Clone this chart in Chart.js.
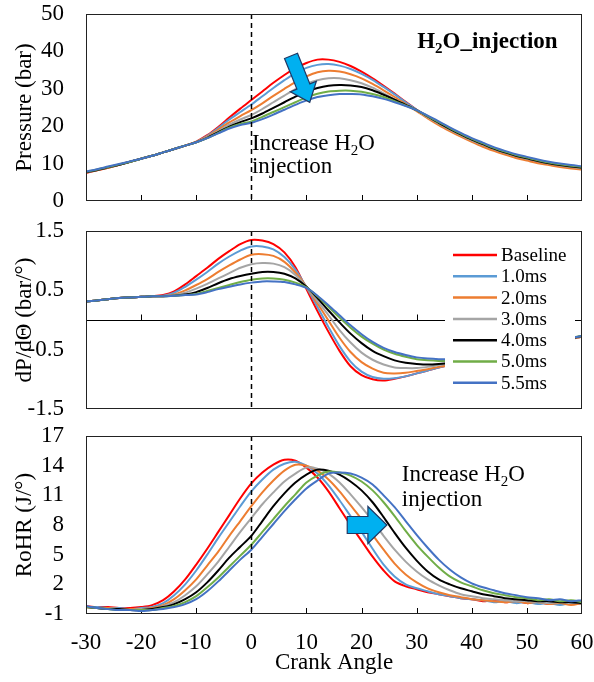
<!DOCTYPE html>
<html>
<head>
<meta charset="utf-8">
<script src="https://cdn.jsdelivr.net/npm/chart.js@4.4.1/dist/chart.umd.min.js"></script>
<style>
html, body { margin: 0; padding: 0; background: #fff; }
#wrap { position: relative; width: 594px; height: 682px; }
canvas { position: absolute; left: 0; top: 0; }
</style>
</head>
<body>
<div id="wrap">
  <canvas id="chart-p" width="594" height="682"></canvas>
  <canvas id="chart-d" width="594" height="682"></canvas>
  <canvas id="chart-r" width="594" height="682"></canvas>
</div>
<script>
const FONT = "'Liberation Serif', 'Times New Roman', serif";

const crankAngle = [-30,-28,-26,-24,-22,-20,-18,-16,-14,-12,-10,-8,-6,-4,-2,0,2,4,6,8,10,12,14,16,18,20,22,24,26,28,30,32,34,36,38,40,42,44,46,48,50,52,54,56,58,60];
const angleTicks = [-30,-20,-10,0,10,20,30,40,50,60];

const seriesNames = ["Baseline", "1.0ms", "2.0ms", "3.0ms", "4.0ms", "5.0ms", "5.5ms"];
const seriesColors = ["#ff0000", "#5b9bd5", "#ed7d31", "#a5a5a5", "#000000", "#70ad47", "#4472c4"];

// Pressure (bar)
const pBase = [7.5,8.2,8.9,9.7,10.5,11.3,12.1,13.0,13.9,14.8, 15.9,17.6,19.8,22.3,24.7,27.0,29.3,31.6,33.7,35.5, 36.9,37.8,37.8,37.2,36.1,34.6,32.8,30.8,28.7,26.5, 24.4,22.5,20.7,19.0,17.5,16.1,14.9,13.8,12.8,11.9, 11.2,10.5,9.9,9.4,9.0,8.7];
const p10 = [7.7,8.3,9.0,9.7,10.5,11.3,12.1,13.0,13.9,14.8, 15.8,17.4,19.5,21.8,23.8,25.8,28.0,30.2,32.3,34.2, 35.6,36.4,36.6,36.2,35.3,34.0,32.4,30.5,28.5,26.4, 24.4,22.5,20.7,19.1,17.6,16.2,15.0,13.9,12.9,12.0, 11.3,10.6,10.0,9.5,9.1,8.8];
const p20 = [7.6,8.2,8.9,9.7,10.5,11.3,12.1,13.0,13.9,14.8, 15.8,17.2,19.1,21.0,22.7,24.3,26.1,28.1,30.0,31.8, 33.3,34.4,34.8,34.6,33.9,32.8,31.3,29.6,27.8,25.9, 24.0,22.1,20.3,18.7,17.2,15.8,14.5,13.4,12.4,11.5, 10.8,10.1,9.6,9.1,8.7,8.4];
const p30 = [7.7,8.3,9.0,9.7,10.5,11.3,12.1,13.0,13.9,14.8, 15.7,17.0,18.7,20.4,21.8,23.0,24.6,26.4,28.2,29.9, 31.3,32.3,32.8,32.8,32.3,31.5,30.3,28.8,27.2,25.7, 24.2,22.4,20.7,19.1,17.6,16.2,15.0,13.9,12.9,12.0, 11.3,10.6,10.0,9.5,9.1,8.8];
const p40 = [7.7,8.3,9.0,9.7,10.5,11.3,12.1,13.0,13.9,14.8, 15.7,16.9,18.4,19.9,21.1,22.1,23.4,24.9,26.4,27.9, 29.2,30.2,30.8,31.0,30.9,30.5,29.6,28.4,27.1,25.7, 24.3,22.6,20.9,19.3,17.8,16.4,15.2,14.0,13.0,12.1, 11.4,10.7,10.1,9.6,9.2,8.9];
const p50 = [7.8,8.4,9.1,9.8,10.5,11.3,12.1,13.0,13.9,14.8, 15.7,16.8,18.2,19.6,20.6,21.3,22.5,23.8,25.1,26.4, 27.7,28.7,29.3,29.5,29.5,29.2,28.6,27.8,26.7,25.5, 24.3,22.7,21.1,19.5,18.0,16.6,15.4,14.2,13.2,12.3, 11.6,10.9,10.3,9.8,9.4,9.1];
const p55 = [7.9,8.5,9.2,9.9,10.6,11.3,12.1,13.0,13.9,14.8, 15.7,16.8,18.1,19.4,20.3,20.9,21.9,23.1,24.4,25.7, 26.9,27.8,28.3,28.6,28.6,28.5,28.0,27.3,26.4,25.4, 24.3,22.8,21.3,19.7,18.2,16.8,15.6,14.4,13.4,12.5, 11.8,11.1,10.5,10.0,9.6,9.3];
const pressureTicks = [0,10,20,30,40,50];

// dP/dTheta (bar/deg)
const dBase = [0.31,0.33,0.35,0.37,0.38,0.39,0.40,0.42,0.48,0.60, 0.74,0.88,1.03,1.16,1.28,1.35,1.34,1.28,1.14,0.89, 0.52,0.15,-0.20,-0.52,-0.78,-0.93,-1.00,-1.02,-0.99,-0.95, -0.90,-0.85,-0.80,-0.76,-0.72,-0.68,-0.64,-0.60,-0.56,-0.52, -0.48,-0.44,-0.40,-0.36,-0.32,-0.28];
const d10 = [0.31,0.33,0.35,0.37,0.38,0.39,0.40,0.41,0.46,0.56, 0.68,0.81,0.95,1.07,1.17,1.24,1.24,1.19,1.06,0.85, 0.55,0.22,-0.12,-0.44,-0.70,-0.87,-0.96,-0.99,-0.98,-0.95, -0.90,-0.85,-0.80,-0.76,-0.72,-0.68,-0.64,-0.60,-0.56,-0.52, -0.48,-0.44,-0.40,-0.36,-0.32,-0.28];
const d20 = [0.31,0.33,0.35,0.37,0.38,0.39,0.40,0.40,0.43,0.50, 0.59,0.69,0.81,0.92,1.02,1.10,1.11,1.08,0.98,0.80, 0.56,0.28,-0.01,-0.30,-0.54,-0.71,-0.82,-0.89,-0.90,-0.89, -0.86,-0.83,-0.79,-0.76,-0.72,-0.68,-0.64,-0.60,-0.56,-0.52, -0.48,-0.44,-0.40,-0.36,-0.32,-0.28];
const d30 = [0.31,0.33,0.35,0.37,0.38,0.39,0.40,0.40,0.42,0.46, 0.53,0.61,0.70,0.79,0.88,0.94,0.96,0.95,0.89,0.76, 0.56,0.32,0.08,-0.17,-0.38,-0.55,-0.67,-0.75,-0.80,-0.81, -0.81,-0.79,-0.76,-0.73,-0.70,-0.66,-0.63,-0.59,-0.55,-0.51, -0.47,-0.43,-0.39,-0.35,-0.31,-0.27];
const d40 = [0.31,0.33,0.35,0.37,0.38,0.39,0.40,0.40,0.41,0.43, 0.47,0.54,0.62,0.69,0.74,0.78,0.81,0.81,0.78,0.70, 0.56,0.37,0.16,-0.04,-0.23,-0.39,-0.52,-0.61,-0.68,-0.72, -0.74,-0.75,-0.74,-0.72,-0.69,-0.65,-0.62,-0.58,-0.54,-0.50, -0.46,-0.42,-0.38,-0.35,-0.31,-0.27];
const d50 = [0.31,0.33,0.35,0.37,0.38,0.39,0.40,0.40,0.41,0.42, 0.44,0.49,0.54,0.59,0.64,0.68,0.70,0.70,0.68,0.63, 0.55,0.40,0.22,0.04,-0.13,-0.28,-0.40,-0.50,-0.57,-0.62, -0.66,-0.68,-0.69,-0.69,-0.67,-0.64,-0.61,-0.57,-0.53,-0.49, -0.45,-0.41,-0.37,-0.34,-0.30,-0.27];
const d55 = [0.31,0.33,0.35,0.37,0.38,0.39,0.40,0.40,0.41,0.42, 0.43,0.47,0.52,0.56,0.60,0.63,0.65,0.65,0.64,0.60, 0.54,0.41,0.25,0.08,-0.09,-0.24,-0.37,-0.47,-0.54,-0.59, -0.63,-0.65,-0.66,-0.66,-0.64,-0.61,-0.58,-0.55,-0.51,-0.47, -0.43,-0.40,-0.36,-0.33,-0.30,-0.27];
const dpTicks = [-1.5,-0.5,0.5,1.5];

// RoHR (J/deg)
const rBase = [-0.2,-0.3,-0.3,-0.4,-0.4,-0.3,-0.1,0.4,1.3,2.5, 4.0,5.6,7.3,9.0,10.7,12.2,13.3,14.1,14.6,14.5, 13.8,12.8,11.4,9.7,8.0,6.4,4.8,3.4,2.3,1.8, 1.5,1.2,1.0,0.8,0.6,0.5,0.3,0.4,0.2,0.3, 0.1,0.2,0.0,0.2,0.0,0.1];
const r10 = [-0.3,-0.3,-0.4,-0.4,-0.5,-0.4,-0.3,0.1,0.9,2.0, 3.4,5.0,6.7,8.3,9.9,11.4,12.6,13.6,14.2,14.4, 14.0,13.2,12.0,10.5,8.9,7.3,5.6,4.0,2.8,2.0, 1.6,1.3,1.0,0.8,0.6,0.5,0.4,0.2,0.3,0.1, 0.2,0.0,0.1,-0.1,0.1,0.0];
const r20 = [-0.3,-0.4,-0.4,-0.5,-0.5,-0.5,-0.4,-0.1,0.5,1.4, 2.5,3.9,5.3,6.9,8.4,9.9,11.3,12.5,13.5,14.1, 14.0,13.5,12.6,11.4,10.0,8.6,7.0,5.5,4.1,3.0, 2.2,1.6,1.2,0.9,0.7,0.5,0.4,0.3,0.2,0.3, 0.1,0.2,0.0,0.1,-0.1,0.1];
const r30 = [-0.3,-0.4,-0.5,-0.5,-0.6,-0.5,-0.5,-0.2,0.2,0.9, 1.8,3.0,4.3,5.8,7.3,8.7,10.1,11.3,12.4,13.2, 13.8,13.7,13.2,12.3,11.1,9.8,8.4,6.9,5.5,4.3, 3.3,2.5,1.9,1.4,1.0,0.8,0.6,0.5,0.4,0.3, 0.3,0.2,0.1,0.2,0.1,0.2];
const r40 = [-0.3,-0.4,-0.5,-0.5,-0.6,-0.6,-0.5,-0.3,0.0,0.5, 1.2,2.2,3.4,4.7,5.8,6.9,8.4,9.9,11.2,12.3, 13.1,13.6,13.5,13.1,12.4,11.5,10.3,8.8,7.2,5.7, 4.4,3.3,2.5,2.0,1.6,1.3,1.0,0.8,0.6,0.5, 0.4,0.3,0.3,0.2,0.2,0.1];
const r50 = [-0.3,-0.4,-0.5,-0.6,-0.6,-0.6,-0.6,-0.4,-0.2,0.2, 0.8,1.7,2.7,3.8,4.9,6.0,7.3,8.6,9.9,11.1, 12.3,13.0,13.4,13.3,13.0,12.4,11.5,10.3,8.9,7.4, 6.0,4.8,3.7,2.8,2.2,1.8,1.4,1.1,0.9,0.7, 0.6,0.4,0.5,0.3,0.4,0.2];
const r55 = [-0.2,-0.4,-0.5,-0.6,-0.6,-0.7,-0.6,-0.5,-0.3,0.0, 0.5,1.3,2.3,3.4,4.5,5.5,6.8,8.1,9.4,10.6, 11.7,12.5,13.2,13.3,13.2,12.8,12.1,11.0,9.8,8.4, 7.0,5.7,4.5,3.5,2.7,2.1,1.7,1.4,1.1,0.9, 0.7,0.6,0.4,0.5,0.3,0.4];
const rohrTicks = [-1,2,5,8,11,14,17];

function drawRich(ctx, parts, x, y, size, weight) {
    let cx = x;
    for (const [t, sub] of parts) {
        const fs = sub ? Math.round(size * 0.65) : size;
        ctx.font = `${weight} ${fs}px ${FONT}`;
        ctx.fillText(t, cx, sub ? y + size * 0.2 : y);
        cx += ctx.measureText(t).width;
    }
}

function drawArrow(ctx, x0, y0, x1, y1, shaftW, headW, headL) {
    const ang = Math.atan2(y1 - y0, x1 - x0);
    const len = Math.hypot(x1 - x0, y1 - y0);
    ctx.save();
    ctx.translate(x0, y0);
    ctx.rotate(ang);
    ctx.beginPath();
    ctx.moveTo(0, -shaftW / 2);
    ctx.lineTo(len - headL, -shaftW / 2);
    ctx.lineTo(len - headL, -headW / 2);
    ctx.lineTo(len, 0);
    ctx.lineTo(len - headL, headW / 2);
    ctx.lineTo(len - headL, shaftW / 2);
    ctx.lineTo(0, shaftW / 2);
    ctx.closePath();
    ctx.fillStyle = "#00b0f0";
    ctx.fill();
    ctx.strokeStyle = "#1f3864";
    ctx.lineWidth = 1.2;
    ctx.stroke();
    ctx.restore();
}

// box, inside tick marks and the dashed TDC line
const frame = {
    id: "frame",
    beforeDatasetsDraw(chart, args, opts) {
        const { ctx, chartArea: a, scales: { x, y } } = chart;
        ctx.save();
        ctx.strokeStyle = "#000";
        ctx.lineWidth = 1;
        let base = a.bottom;
        if (opts.zeroLine) {
            base = Math.round(y.getPixelForValue(0)) + 0.5;
            ctx.beginPath();
            ctx.moveTo(a.left, base);
            ctx.lineTo(a.right, base);
            ctx.stroke();
        }
        for (const v of angleTicks.slice(1, -1)) {
            const px = Math.round(x.getPixelForValue(v)) + 0.5;
            ctx.beginPath();
            ctx.moveTo(px, base);
            ctx.lineTo(px, base - 6);
            ctx.stroke();
        }
        ctx.restore();
    },
    afterDatasetsDraw(chart) {
        const { ctx, chartArea: a, scales: { x } } = chart;
        ctx.save();
        const x0 = Math.round(x.getPixelForValue(0)) + 0.5;
        ctx.strokeStyle = "#000";
        ctx.lineWidth = 1.5;
        ctx.setLineDash([5, 4]);
        ctx.beginPath();
        ctx.moveTo(x0, a.top);
        ctx.lineTo(x0, a.bottom);
        ctx.stroke();
        ctx.setLineDash([]);
        ctx.lineWidth = 1;
        ctx.strokeStyle = "#222";
        ctx.strokeRect(a.left + 0.5, a.top + 0.5, a.width - 1, a.height - 1);
        ctx.restore();
    },
};

const pressureNotes = {
    id: "pressureNotes",
    afterDraw(chart) {
        const { ctx, scales: { x, y } } = chart;
        ctx.save();
        ctx.fillStyle = "#000";
        ctx.textAlign = "left";
        ctx.textBaseline = "alphabetic";
        drawRich(ctx, [["H", false], ["2", true], ["O_injection", false]], x.getPixelForValue(30.1), y.getPixelForValue(40.9), 23, "bold");
        drawRich(ctx, [["Increase H", false], ["2", true], ["O", false]], x.getPixelForValue(0.1), y.getPixelForValue(13.6), 23, "normal");
        drawRich(ctx, [["injection", false]], x.getPixelForValue(0.1), y.getPixelForValue(7.5), 23, "normal");
        drawArrow(ctx, x.getPixelForValue(7.2), y.getPixelForValue(38.8), x.getPixelForValue(10.6), y.getPixelForValue(26.4), 14, 28, 17);
        ctx.restore();
    },
};

const dpLegend = {
    id: "dpLegend",
    afterDatasetsDraw(chart) {
        const { ctx } = chart;
        ctx.save();
        ctx.fillStyle = "#fff";
        ctx.fillRect(445, 242, 130, 154);
        ctx.font = `19px ${FONT}`;
        ctx.textAlign = "left";
        ctx.textBaseline = "middle";
        chart.data.datasets.forEach((ds, i) => {
            const yy = 255 + i * 21.3;
            ctx.strokeStyle = ds.borderColor;
            ctx.lineWidth = 2.5;
            ctx.beginPath();
            ctx.moveTo(453, yy);
            ctx.lineTo(497, yy);
            ctx.stroke();
            ctx.fillStyle = "#000";
            ctx.fillText(ds.label, 501, yy + 1);
        });
        ctx.restore();
    },
};

const rohrNotes = {
    id: "rohrNotes",
    afterDraw(chart) {
        const { ctx, scales: { x, y } } = chart;
        ctx.save();
        ctx.fillStyle = "#000";
        ctx.textAlign = "left";
        ctx.textBaseline = "alphabetic";
        drawRich(ctx, [["Increase H", false], ["2", true], ["O", false]], x.getPixelForValue(27.3), y.getPixelForValue(12.45), 23, "normal");
        drawRich(ctx, [["injection", false]], x.getPixelForValue(27.3), y.getPixelForValue(9.9), 23, "normal");
        drawArrow(ctx, x.getPixelForValue(17.4), y.getPixelForValue(8.0), x.getPixelForValue(24.6), y.getPixelForValue(8.0), 17, 37, 19);
        ctx.restore();
    },
};

function buildPanel(id, series, yMin, yMax, yTicks, yTitle, top, bottom, showX, extraPlugins, zeroLine) {
    const datasets = series.map((vals, i) => ({
        label: seriesNames[i],
        data: vals.map((v, j) => ({ x: crankAngle[j], y: v })),
        borderColor: seriesColors[i],
        backgroundColor: seriesColors[i],
        borderWidth: 2,
        pointRadius: 0,
        tension: 0.3,
        fill: false,
        order: 7 - i,
    }));
    return new Chart(document.getElementById(id), {
        type: "line",
        data: { datasets },
        options: {
            responsive: false,
            animation: false,
            events: [],
            layout: { padding: { left: 0, right: 12, top: top, bottom: showX ? 0 : 682 - bottom } },
            plugins: {
                legend: { display: false },
                tooltip: { enabled: false },
                frame: { zeroLine: zeroLine },
            },
            scales: {
                x: {
                    type: "linear",
                    min: -30,
                    max: 60,
                    display: showX,
                    afterBuildTicks: (s) => { s.ticks = angleTicks.map((v) => ({ value: v })); },
                    afterFit: (s) => {
                        s.height = showX ? 682 - bottom : 0;
                        s.paddingLeft = 0;
                        s.paddingRight = 0;
                    },
                    grid: { display: false, drawTicks: false },
                    border: { display: false },
                    ticks: { font: { family: FONT, size: 23 }, color: "#000", padding: 15, maxRotation: 0, autoSkip: false },
                    title: { display: true, text: "Crank Angle", font: { family: FONT, size: 23 }, color: "#000", padding: { top: 0, bottom: 5 } },
                },
                y: {
                    min: yMin,
                    max: yMax,
                    afterBuildTicks: (s) => { s.ticks = yTicks.map((v) => ({ value: v })); },
                    afterFit: (s) => {
                        s.width = 86;
                        s.paddingTop = 0;
                        s.paddingBottom = 0;
                    },
                    grid: { display: false, drawTicks: false },
                    border: { display: false },
                    ticks: { font: { family: FONT, size: 23 }, color: "#000", padding: 22, autoSkip: false },
                    title: { display: true, text: yTitle, font: { family: FONT, size: 23 }, color: "#000", padding: { top: 11, bottom: 0 } },
                },
            },
        },
        plugins: [frame].concat(extraPlugins),
    });
}

buildPanel("chart-p", [pBase, p10, p20, p30, p40, p50, p55], 0, 50, pressureTicks, "Pressure (bar)", 14, 201, false, [pressureNotes], false);
buildPanel("chart-d", [dBase, d10, d20, d30, d40, d50, d55], -1.5, 1.5, dpTicks, "dP/dΘ (bar/°)", 231, 409, false, [dpLegend], true);
buildPanel("chart-r", [rBase, r10, r20, r30, r40, r50, r55], -1, 17, rohrTicks, "RoHR (J/°)", 436, 614, true, [rohrNotes], false);
</script>
</body>
</html>
